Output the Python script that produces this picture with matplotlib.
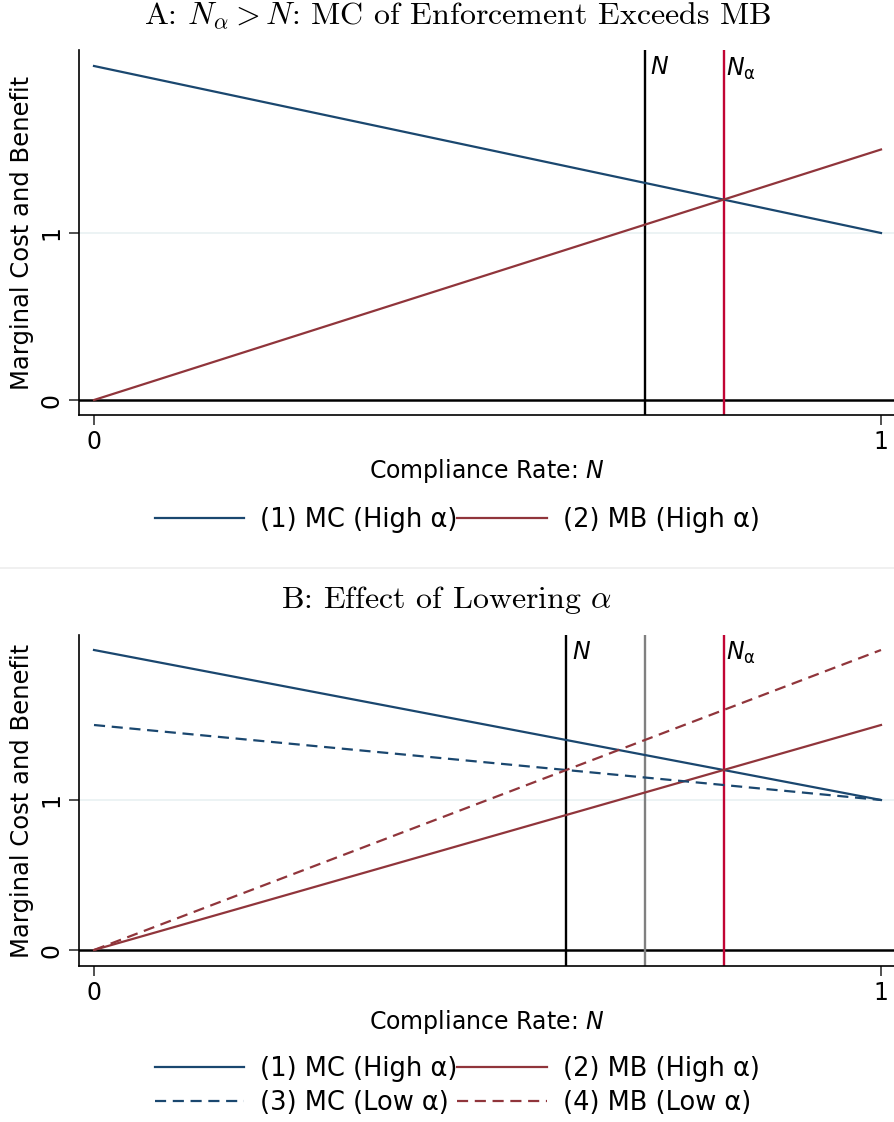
import matplotlib
matplotlib.use("Agg")
import matplotlib.pyplot as plt
from matplotlib.lines import Line2D

# ---- data ----
N_range = [0.0, 1.0]
mc_high = [2.0, 1.0]
mb_high = [0.0, 1.5]
mc_low = [1.5, 1.0]
mb_low = [0.0, 2.0]
N_A = 0.70        # panel A: N
N_alpha = 0.80    # N_alpha (both panels)
N_B = 0.60        # panel B: N
N_B_old = 0.70    # panel B: previous N (gray)
x_ticks = [0, 1]
y_ticks = [0, 1]

BLUE = "#1a476f"
MAROON = "#90353b"
RED = "#c10534"
GRAY = "#808080"
GRID = "#eaf2f3"

W, H = 894, 1122
fig = plt.figure(figsize=(W / 100, H / 100), dpi=100)
fig.patch.set_facecolor("white")

def px_axes(left, top, right, bottom):
    return fig.add_axes([left / W, 1 - bottom / H, (right - left) / W, (bottom - top) / H])

def style(ax, ylim):
    ax.set_xlim(-15 / 787, 1 + 13 / 787)
    ax.set_ylim(*ylim)
    for s in ["top", "right"]:
        ax.spines[s].set_visible(False)
    for s in ["left", "bottom"]:
        ax.spines[s].set_linewidth(1.2)
    ax.set_xticks(x_ticks)
    ax.set_yticks(y_ticks)
    ax.set_xticklabels([str(t) for t in x_ticks], fontsize=17)
    ax.set_yticklabels([str(t) for t in y_ticks], fontsize=17, rotation=90, va="center")
    ax.tick_params(axis="both", length=7, width=1.2, color="#333333", pad=4)
    ax.axhline(1, color=GRID, lw=1.3, zorder=0)
    ax.axhline(0, color="black", lw=1.8, zorder=1)
    ax.set_xlabel("Compliance Rate: $N$", fontsize=17, labelpad=2, math_fontfamily="dejavusans")
    ax.set_ylabel("Marginal Cost and Benefit", fontsize=17.5, labelpad=4)

label_kw = dict(fontsize=17, va="top", ha="left", math_fontfamily="dejavusans")
title_kw = dict(ha="center", va="center", fontsize=23, family="cmr10", math_fontfamily="cm")

# ---- Panel A ----
axA = px_axes(79, 50, 894, 415)
style(axA, (-15 / 167, 350 / 167))
axA.axvline(N_A, color="black", lw=1.7, zorder=2)
axA.axvline(N_alpha, color=RED, lw=1.7, zorder=2)
axA.plot(N_range, mc_high, color=BLUE, lw=1.6, zorder=3)
axA.plot(N_range, mb_high, color=MAROON, lw=1.6, zorder=3)
axA.text(N_A + 0.007, 0.985, "$N$", transform=axA.get_xaxis_transform(), **label_kw)
axA.text(N_alpha + 0.003, 0.985, r"$N_{\mathrm{\alpha}}$", transform=axA.get_xaxis_transform(), **label_kw)
fig.text(458 / W, 1 - 16 / H, r"A: $N_\alpha > N$: MC of Enforcement Exceeds MB", **title_kw)

hA = [Line2D([], [], color=BLUE, lw=1.6), Line2D([], [], color=MAROON, lw=1.6)]
fig.legend(hA, ["(1) MC (High α)", "(2) MB (High α)"], loc="center",
           bbox_to_anchor=(457 / W, 1 - 520 / H), ncol=2, frameon=False, fontsize=18.5,
           handlelength=3.5, handletextpad=0.6, columnspacing=0.0)

# separator
fig.add_artist(Line2D([0, 1], [1 - 568 / H, 1 - 568 / H], color="#eeeeee", lw=1.2,
                      transform=fig.transFigure))

# ---- Panel B ----
axB = px_axes(79, 635, 894, 966)
style(axB, (-16 / 150, 315 / 150))
axB.axvline(N_B, color="black", lw=1.7, zorder=2)
axB.axvline(N_B_old, color=GRAY, lw=1.7, zorder=2)
axB.axvline(N_alpha, color=RED, lw=1.7, zorder=2)
axB.plot(N_range, mc_high, color=BLUE, lw=1.6, zorder=3)
axB.plot(N_range, mb_high, color=MAROON, lw=1.6, zorder=3)
axB.plot(N_range, mc_low, color=BLUE, lw=1.6, ls=(0, (5, 3)), zorder=3)
axB.plot(N_range, mb_low, color=MAROON, lw=1.6, ls=(0, (5, 3)), zorder=3)
axB.text(N_B + 0.007, 0.985, "$N$", transform=axB.get_xaxis_transform(), **label_kw)
axB.text(N_alpha + 0.003, 0.985, r"$N_{\mathrm{\alpha}}$", transform=axB.get_xaxis_transform(), **label_kw)
fig.text(447 / W, 1 - 600 / H, r"B: Effect of Lowering $\alpha$", **title_kw)

hB = [Line2D([], [], color=BLUE, lw=1.6), Line2D([], [], color=MAROON, lw=1.6),
      Line2D([], [], color=BLUE, lw=1.6, ls=(0, (5, 3))),
      Line2D([], [], color=MAROON, lw=1.6, ls=(0, (5, 3)))]
labB = ["(1) MC (High α)", "(3) MC (Low α)", "(2) MB (High α)", "(4) MB (Low α)"]
hB_order = [hB[0], hB[2], hB[1], hB[3]]
fig.legend(hB_order, labB, loc="center",
           bbox_to_anchor=(457 / W, 1 - 1086 / H), ncol=2, frameon=False, fontsize=18.5,
           handlelength=3.5, handletextpad=0.6, columnspacing=0.0, labelspacing=0.3)

fig.savefig("out.png", dpi=100, facecolor="white")
